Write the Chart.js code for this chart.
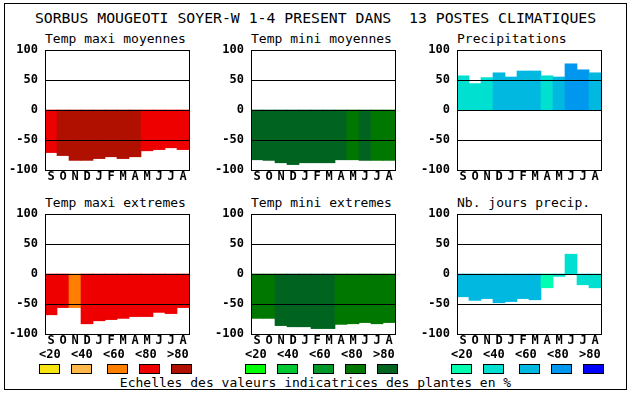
<!DOCTYPE html>
<html>
<head>
<meta charset="utf-8">
<script src="https://cdn.jsdelivr.net/npm/chart.js@4/dist/chart.umd.min.js"></script>
<style>
  body { margin: 0; background: #fff; font-family: 'DejaVu Sans Mono', monospace; color: #000; }
  #wrap { position: relative; width: 630px; height: 394px; overflow: hidden; }
  .abs { position: absolute; white-space: pre; }
  #frame { left: 4px; top: 3px; width: 621px; height: 385px; border: 1px solid #000; }
  #title { left: 4px; width: 623px; top: 9px; text-align: center; font-size: 14.8px; line-height: 17px; }
  .ptitle { font-size: 13px; line-height: 15px; }
  .lab { font-size: 12px; font-weight: bold; line-height: 14px; }
  .sw { width: 19px; height: 8px; border: 1px solid #000; }
  #foot { left: 4px; width: 623px; top: 375px; text-align: center; font-size: 13px; line-height: 15px; }
  canvas { position: absolute; }
</style>
</head>
<body>
<div id="wrap">
  <div id="frame" class="abs"></div>
  <div id="title" class="abs">SORBUS MOUGEOTI SOYER-W 1-4 PRESENT DANS  13 POSTES CLIMATIQUES</div>
  <div id="foot" class="abs">Echelles des valeurs indicatrices des plantes en %</div>
</div>
<script>
// months, Sept -> Aug
const months = ['S', 'O', 'N', 'D', 'J', 'F', 'M', 'A', 'M', 'J', 'J', 'A'];
const scaleLabels = ['<20', '<40', '<60', '<80', '>80'];
const yTicks = [-100, -50, 0, 50, 100];

// colour scales (class 0..4)
const redPal = ['#f8e412', '#ffb84c', '#ff8000', '#ee0000', '#b01000'];
const greenPal = ['#00ff00', '#00c832', '#009828', '#007800', '#006420'];
const bluePal = ['#00ffb0', '#00e0d0', '#00b8e0', '#0098ee', '#0000ff'];

// values + class of each bar
const tmaxMoy = [-71, -76, -84, -84, -81, -78, -81, -78, -68, -66, -63, -66];
const tmaxMoyCls = [3, 4, 4, 4, 4, 4, 4, 4, 3, 3, 3, 3];
const tminMoy = [-83, -84, -88, -91, -88, -88, -88, -83, -83, -84, -84, -84];
const tminMoyCls = [4, 4, 4, 4, 4, 4, 4, 4, 3, 4, 3, 3];
const precip = [57, 44, 54, 62, 55, 65, 65, 57, 55, 77, 67, 62];
const precipCls = [1, 1, 1, 2, 2, 2, 2, 1, 2, 3, 3, 2];
const tmaxExt = [-68, -56, -56, -83, -78, -76, -74, -71, -71, -64, -66, -56];
const tmaxExtCls = [3, 3, 2, 3, 3, 3, 3, 3, 3, 3, 3, 3];
const tminExt = [-74, -74, -86, -88, -88, -91, -91, -84, -83, -81, -83, -81];
const tminExtCls = [3, 3, 4, 4, 4, 4, 4, 3, 3, 3, 3, 3];
const nbJours = [-38, -44, -41, -48, -46, -41, -43, -23, -4, 33, -18, -23];
const nbJoursCls = [2, 2, 2, 2, 2, 2, 2, 0, 1, 1, 1, 1];

const panels = [
    { title: 'Temp maxi moyennes', data: tmaxMoy, cls: tmaxMoyCls, pal: redPal, col: 0, row: 0 },
    { title: 'Temp mini moyennes', data: tminMoy, cls: tminMoyCls, pal: greenPal, col: 1, row: 0 },
    { title: 'Precipitations', data: precip, cls: precipCls, pal: bluePal, col: 2, row: 0 },
    { title: 'Temp maxi extremes', data: tmaxExt, cls: tmaxExtCls, pal: redPal, col: 0, row: 1 },
    { title: 'Temp mini extremes', data: tminExt, cls: tminExtCls, pal: greenPal, col: 1, row: 1 },
    { title: 'Nb. jours precip.', data: nbJours, cls: nbJoursCls, pal: bluePal, col: 2, row: 1 }
];

Chart.defaults.color = '#000';
Chart.defaults.font.family = "'DejaVu Sans Mono', monospace";

const wrap = document.getElementById('wrap');
const boldFont = { family: "'DejaVu Sans Mono', monospace", size: 12, weight: 'bold' };

// plot frame + horizontal lines on top of the bars
const framePlugin = {
    id: 'frame',
    afterDatasetsDraw(chart) {
        const ctx = chart.ctx;
        const a = chart.chartArea;
        const ys = chart.scales.y;
        ctx.save();
        ctx.strokeStyle = '#000';
        ctx.lineWidth = 1;
        ctx.beginPath();
        yTicks.forEach(v => {
            const y = Math.round(ys.getPixelForValue(v)) + 0.5;
            ctx.moveTo(a.left, y);
            ctx.lineTo(a.right + 1, y);
        });
        ctx.moveTo(a.left + 0.5, a.top);
        ctx.lineTo(a.left + 0.5, a.bottom + 1);
        ctx.moveTo(a.right + 0.5, a.top);
        ctx.lineTo(a.right + 0.5, a.bottom + 1);
        ctx.stroke();
        ctx.restore();
    }
};

// keep the plot area exactly where we want it
function noPad(s) {
    s.paddingTop = 0;
    s.paddingBottom = 0;
    s.paddingLeft = 0;
    s.paddingRight = 0;
}

function addDiv(cls, text, left, top) {
    const d = document.createElement('div');
    d.className = 'abs ' + cls;
    d.textContent = text;
    d.style.left = left + 'px';
    d.style.top = top + 'px';
    wrap.appendChild(d);
    return d;
}

panels.forEach(p => {
    const plotLeft = 45 + p.col * 206;
    const top = 40 + p.row * 164;

    addDiv('ptitle', p.title, plotLeft, top - 9);

    const canvas = document.createElement('canvas');
    canvas.width = 196;
    canvas.height = 150;
    canvas.style.left = (plotLeft - 45) + 'px';
    canvas.style.top = top + 'px';
    wrap.appendChild(canvas);

    new Chart(canvas, {
        type: 'bar',
        data: {
            labels: months,
            datasets: [{
                data: p.data,
                backgroundColor: p.cls.map(c => p.pal[c]),
                borderWidth: 0,
                barPercentage: 1,
                categoryPercentage: 1
            }]
        },
        options: {
            responsive: false,
            animation: false,
            events: [],
            layout: { padding: { top: 10, right: 7, left: 0, bottom: 0 } },
            plugins: { legend: { display: false }, tooltip: { enabled: false } },
            scales: {
                x: {
                    grid: { display: false, drawTicks: false },
                    border: { display: false },
                    ticks: { font: boldFont, color: '#000', padding: 0, autoSkip: false, maxRotation: 0 },
                    afterFit(s) { s.height = 20; noPad(s); }
                },
                y: {
                    min: -100,
                    max: 100,
                    grid: { display: false, drawTicks: false },
                    border: { display: false },
                    ticks: { font: boldFont, color: '#000', padding: 7, stepSize: 50 },
                    afterFit(s) { s.width = 45; noPad(s); }
                }
            }
        },
        plugins: [framePlugin]
    });

    // scale legend under the bottom row
    if (p.row === 1) {
        const g = p.col * 206;
        const swatchX = [39, 71, 107, 139, 171];
        scaleLabels.forEach((t, i) => {
            addDiv('lab', t, 39 + 32 * i + g, 347);
            const s = addDiv('sw', '', swatchX[i] + g, 364);
            s.style.background = p.pal[i];
        });
    }
});
</script>
</body>
</html>
